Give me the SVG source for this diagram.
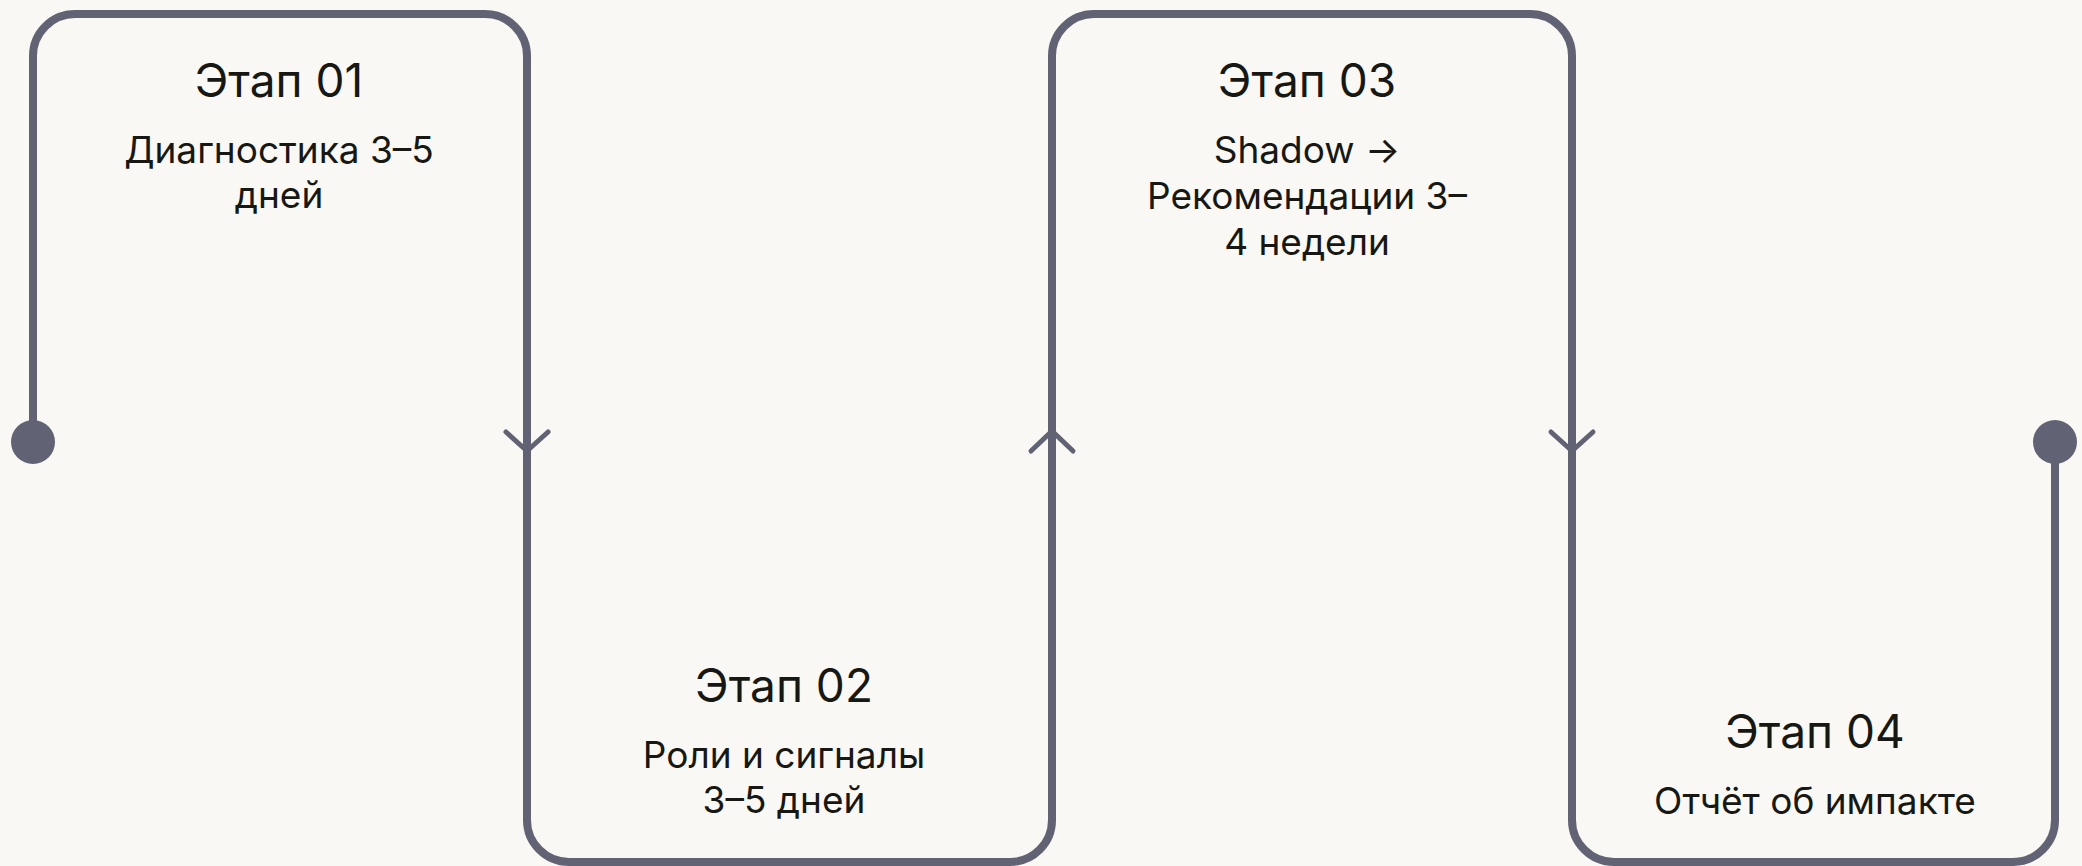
<svg xmlns="http://www.w3.org/2000/svg" width="2082" height="866" viewBox="0 0 2082 866">
<style>
.bg{fill:#f9f8f4}
.edge{fill:none;stroke:#626275;stroke-width:8;stroke-linecap:butt;stroke-linejoin:round}
.chev{fill:none;stroke:#626275;stroke-width:5;stroke-linecap:round;stroke-linejoin:round}
.dot{fill:#626275}
.title{font-family:Inter,"Noto Sans","DejaVu Sans",sans-serif;font-size:46px;font-weight:400;fill:#171713;text-anchor:middle}
.sub{font-family:Inter,"Noto Sans","DejaVu Sans",sans-serif;font-size:37px;font-weight:400;fill:#171713;text-anchor:middle}
</style>
<rect class="bg" x="0" y="0" width="2082" height="866"/>
<g id="node-1">
<path class="edge" d="M33,442 V56 A42,42 0 0 1 75,14 H485 A42,42 0 0 1 527,56 V442"/>
<text class="title" x="279" y="97">Этап 01</text>
<text class="sub" x="279" y="163">Диагностика 3–5</text>
<text class="sub" x="279" y="208">дней</text>
</g>
<g id="node-2">
<path class="edge" d="M527,442 V820 A42,42 0 0 0 569,862 H1010 A42,42 0 0 0 1052,820 V442"/>
<text class="title" x="784" y="702">Этап 02</text>
<text class="sub" x="784" y="768">Роли и сигналы</text>
<text class="sub" x="784" y="813">3–5 дней</text>
</g>
<g id="node-3">
<path class="edge" d="M1052,442 V56 A42,42 0 0 1 1094,14 H1530 A42,42 0 0 1 1572,56 V442"/>
<text class="title" x="1307" y="97">Этап 03</text>
<text class="sub" x="1307" y="163">Shadow →</text>
<text class="sub" x="1307" y="209">Рекомендации 3–</text>
<text class="sub" x="1307" y="255">4 недели</text>
</g>
<g id="node-4">
<path class="edge" d="M1572,442 V820 A42,42 0 0 0 1614,862 H2013 A42,42 0 0 0 2055,820 V442"/>
<text class="title" x="1815" y="748">Этап 04</text>
<text class="sub" x="1815" y="814">Отчёт об импакте</text>
</g>
<g id="connectors">
<circle class="dot" cx="33" cy="442" r="22"/>
<path class="chev" d="M506,432 L527,451 L548,432"/>
<path class="chev" d="M1031,451 L1052,431 L1073,451"/>
<path class="chev" d="M1551,432 L1572,451 L1593,432"/>
<circle class="dot" cx="2055" cy="442" r="22"/>
</g>
</svg>
